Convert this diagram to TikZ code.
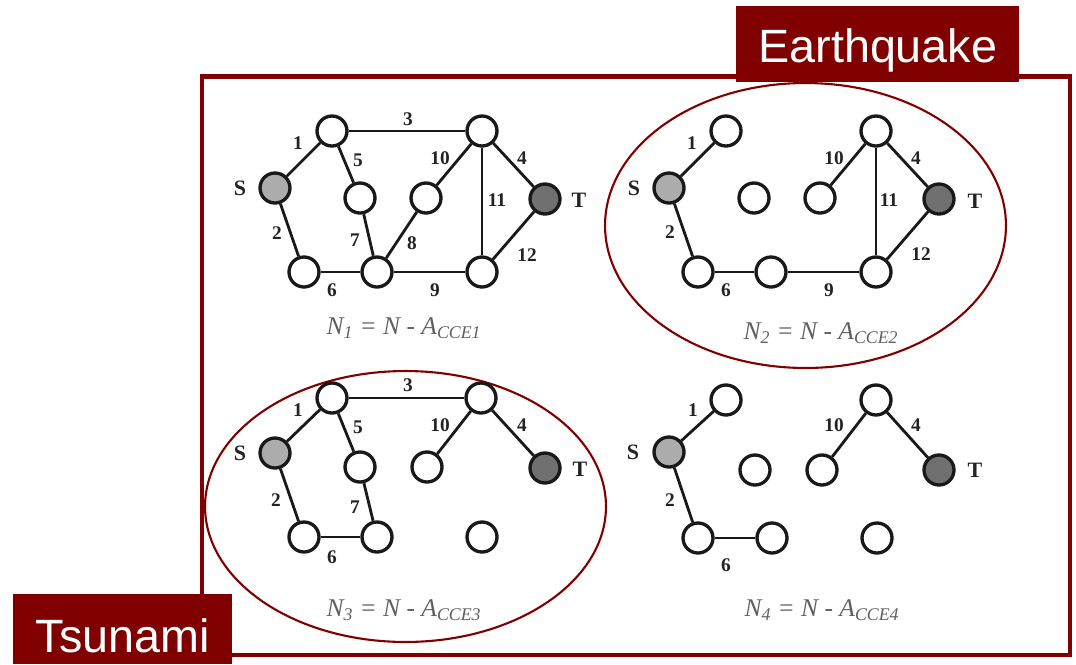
\documentclass[tikz,border=0pt]{standalone}
\usepackage{fontspec}
\setmainfont{Liberation Serif}
\newfontfamily\hazfont{Liberation Sans}
\usepackage{xcolor}
\usepackage{tikz}
\usetikzlibrary{positioning}
\tikzset{
  netnode/.style ={draw=nodeline, circle, line width=1.9pt, fill=white,
                   minimum size=0.6cm, inner sep=0pt},
  srcnode/.style ={netnode, fill=srcgray},
  sinknode/.style={netnode, fill=sinkgray},
  link/.style    ={draw=nodeline, line width=1.6pt},
  lbl/.style     ={font=\fontsize{11}{13}\selectfont\bfseries,
                   text=lblgray, inner sep=0pt},
  stlbl/.style   ={font=\fontsize{12.5}{14}\selectfont\bfseries,
                   text=lblgray, inner sep=0pt},
  eqn/.style     ={font=\fontsize{14.5}{17}\selectfont\itshape,
                   text=eqngray, inner sep=0pt},
  hazbox/.style  ={fill=hazred, text=white, inner sep=0pt, anchor=north west,
                   font=\hazfont\fontsize{26.6}{30}\selectfont},
  zone/.style    ={draw=hazred, line width=1.2pt},
  frame/.style   ={draw=hazred, line width=2.5pt},
}
\definecolor{hazred}   {RGB}{128,0,0}
\definecolor{nodeline} {RGB}{25,25,25}
\definecolor{srcgray}  {RGB}{172,172,172}
\definecolor{sinkgray} {RGB}{112,112,112}
\definecolor{lblgray}  {RGB}{35,35,35}
\definecolor{eqngray}  {RGB}{95,95,95}

\begin{document}
\begin{tikzpicture}[x=0.02cm, y=-0.02cm]
  \useasboundingbox (0,0) rectangle (1076,664);
  \draw[frame] (202,76.5) rectangle (1070,655);
  % hazard zones
  \draw[zone] (805.5,225.5) ellipse [x radius=4.01cm, y radius=2.85cm];
  \draw[zone] (405.5,506.5) ellipse [x radius=4.01cm, y radius=2.71cm];
  \node[hazbox, minimum width=5.66cm, text height=1.12cm, text depth=0.4cm]
    (quake) at (736,6) {Earthquake};
  \node[hazbox, minimum width=4.38cm, text height=1.16cm, text depth=0.24cm]
    (tsunami) at (13,594) {Tsunami};

  % N1
  \node[srcnode]  (s1) at (275,188) {};
  \node[netnode]  (a1) at (332,131) {};
  \node[netnode]  (b1) at (482,131) {};
  \node[netnode]  (c1) at (360,198) {};
  \node[netnode]  (d1) at (426,198) {};
  \node[sinknode] (t1) at (545,199) {};
  \node[netnode]  (e1) at (304,272) {};
  \node[netnode]  (f1) at (377,272) {};
  \node[netnode]  (g1) at (482,272) {};
  \node[stlbl] (sl1) at (240,188) {S};
  \node[stlbl] (tl1) at (579,200) {T};
  \draw[link] (s1) -- (a1) node[lbl] (lab1-1) at (298,143) {1};
  \draw[link] (a1) -- (b1) node[lbl] (lab3-1) at (408,119) {3};
  \draw[link] (a1) -- (c1) node[lbl] (lab5-1) at (358,160) {5};
  \draw[link] (b1) -- (d1) node[lbl] (lab10-1) at (440,158) {10};
  \draw[link] (b1) -- (t1) node[lbl] (lab4-1) at (522,158) {4};
  \draw[link] (b1) -- (g1) node[lbl] (lab11-1) at (497,200) {11};
  \draw[link] (s1) -- (e1) node[lbl] (lab2-1) at (277,233) {2};
  \draw[link] (c1) -- (f1) node[lbl] (lab7-1) at (355,240) {7};
  \draw[link] (d1) -- (f1) node[lbl] (lab8-1) at (412,243) {8};
  \draw[link] (t1) -- (g1) node[lbl] (lab12-1) at (527,255) {12};
  \draw[link] (e1) -- (f1) node[lbl] (lab6-1) at (332,290) {6};
  \draw[link] (f1) -- (g1) node[lbl] (lab9-1) at (435,290) {9};
  \node[eqn] (eq1) at (404,328) {N\textsubscript{1} = N - A\textsubscript{CCE1}};

  % N2
  \begin{scope}[shift={(394,0)}]
    \node[srcnode]  (s2) at (275,188) {};
    \node[netnode]  (a2) at (332,131) {};
    \node[netnode]  (b2) at (482,131) {};
    \node[netnode]  (c2) at (360,198) {};
    \node[netnode]  (d2) at (426,198) {};
    \node[sinknode] (t2) at (545,199) {};
    \node[netnode]  (e2) at (304,272) {};
    \node[netnode]  (f2) at (377,272) {};
    \node[netnode]  (g2) at (482,272) {};
    \node[stlbl] (sl2) at (240,188) {S};
    \node[stlbl] (tl2) at (581,201) {T};
    \draw[link] (s2) -- (a2) node[lbl] (lab1-2) at (298,143) {1};
    \draw[link] (b2) -- (d2) node[lbl] (lab10-2) at (440,158) {10};
    \draw[link] (b2) -- (t2) node[lbl] (lab4-2) at (522,158) {4};
    \draw[link] (b2) -- (g2) node[lbl] (lab11-2) at (495,200) {11};
    \draw[link] (s2) -- (e2) node[lbl] (lab2-2) at (276,232) {2};
    \draw[link] (t2) -- (g2) node[lbl] (lab12-2) at (527,254) {12};
    \draw[link] (e2) -- (f2) node[lbl] (lab6-2) at (332,290) {6};
    \draw[link] (f2) -- (g2) node[lbl] (lab9-2) at (435,290) {9};
    \node[eqn] (eq2) at (427,333) {N\textsubscript{2} = N - A\textsubscript{CCE2}};
  \end{scope}

  % N3
  \begin{scope}[shift={(0,267)}]
    \node[srcnode]  (s3) at (275,186) {};
    \node[netnode]  (a3) at (332,131) {};
    \node[netnode]  (b3) at (481,131) {};
    \node[netnode]  (c3) at (360,200) {};
    \node[netnode]  (d3) at (427,200) {};
    \node[sinknode] (t3) at (545,201) {};
    \node[netnode]  (e3) at (304,270) {};
    \node[netnode]  (f3) at (377,270) {};
    \node[netnode]  (g3) at (482,270) {};
    \node[stlbl] (sl3) at (240,186) {S};
    \node[stlbl] (tl3) at (580,202) {T};
    \draw[link] (s3) -- (a3) node[lbl] (lab1-3) at (298,143) {1};
    \draw[link] (a3) -- (b3) node[lbl] (lab3-3) at (408,118) {3};
    \draw[link] (a3) -- (c3) node[lbl] (lab5-3) at (358,160) {5};
    \draw[link] (b3) -- (d3) node[lbl] (lab10-3) at (440,158) {10};
    \draw[link] (b3) -- (t3) node[lbl] (lab4-3) at (522,158) {4};
    \draw[link] (s3) -- (e3) node[lbl] (lab2-3) at (276,233) {2};
    \draw[link] (c3) -- (f3) node[lbl] (lab7-3) at (355,240) {7};
    \draw[link] (e3) -- (f3) node[lbl] (lab6-3) at (332,290) {6};
    \node[eqn] (eq3) at (404,343) {N\textsubscript{3} = N - A\textsubscript{CCE3}};
  \end{scope}

  % N4
  \begin{scope}[shift={(394,268)}]
    \node[srcnode]  (s4) at (275,184) {};
    \node[netnode]  (a4) at (332,132) {};
    \node[netnode]  (b4) at (482,132) {};
    \node[netnode]  (c4) at (361,202) {};
    \node[netnode]  (d4) at (428,202) {};
    \node[sinknode] (t4) at (545,202) {};
    \node[netnode]  (e4) at (304,270) {};
    \node[netnode]  (f4) at (378,270) {};
    \node[netnode]  (g4) at (483,270) {};
    \node[stlbl] (sl4) at (239,184) {S};
    \node[stlbl] (tl4) at (581,202) {T};
    \draw[link] (s4) -- (a4) node[lbl] (lab1-4) at (299,142) {1};
    \draw[link] (b4) -- (d4) node[lbl] (lab10-4) at (440,157) {10};
    \draw[link] (b4) -- (t4) node[lbl] (lab4-4) at (522,157) {4};
    \draw[link] (s4) -- (e4) node[lbl] (lab2-4) at (276,232) {2};
    \draw[link] (e4) -- (f4) node[lbl] (lab6-4) at (332,297) {6};
    \node[eqn] (eq4) at (428,342) {N\textsubscript{4} = N - A\textsubscript{CCE4}};
  \end{scope}
\end{tikzpicture}
\end{document}
